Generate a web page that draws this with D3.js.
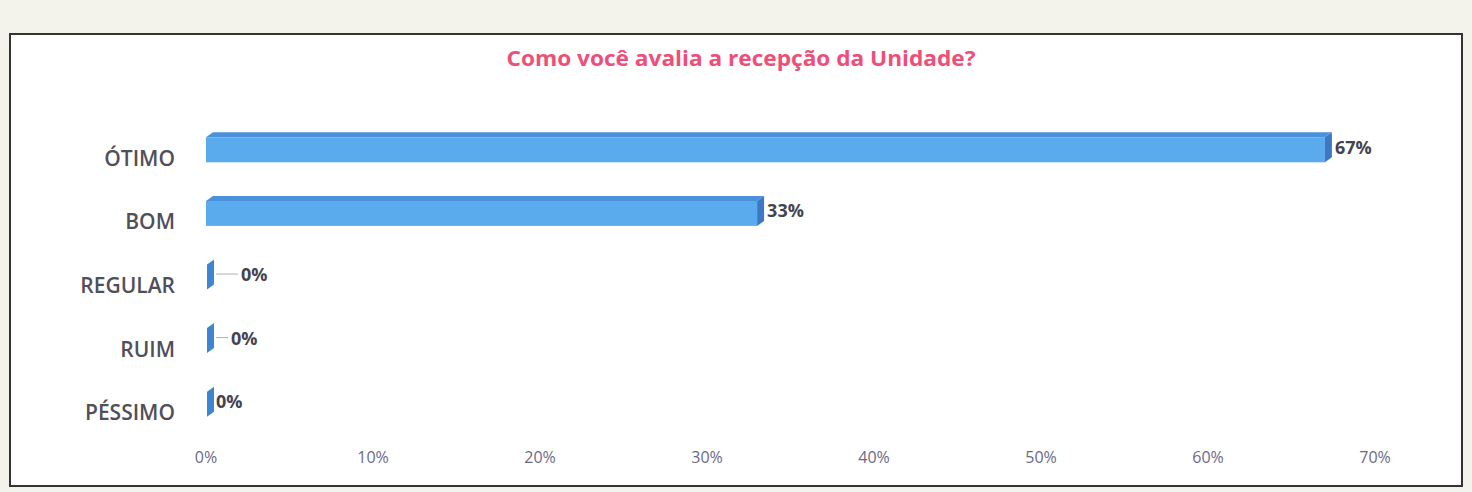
<!DOCTYPE html>
<html>
<head>
<meta charset="utf-8">
<script src="https://cdn.jsdelivr.net/npm/d3@7"></script>
<style>
  html, body { margin: 0; padding: 0; background: #f3f3ec; }
  svg { display: block; }
</style>
</head>
<body>
<div id="app"></div>
<script>
const title = "Como você avalia a recepção da Unidade?";
const categories = ["ÓTIMO", "BOM", "REGULAR", "RUIM", "PÉSSIMO"];
const values = [67, 33, 0, 0, 0];
const tickValues = [0, 10, 20, 30, 40, 50, 60, 70];

const width = 1472,
  height = 492,
  frame = { x: 10, y: 34, w: 1452, h: 452 },
  depth = { dx: 7, dy: 5 },
  barH = 25;

// label nudges (px to the right of bar end), copied from the picture's layout
const labelNudge = [3, 3, 28, 18, 3];

const x = d3.scaleLinear().domain([0, 70]).range([206, 1375]);
const y = d3.scaleBand().domain(categories).range([126, 444]);

const svg = d3
  .select("#app")
  .append("svg")
  .attr("width", width)
  .attr("height", height)
  .style("font-family", "'Open Sans', sans-serif");

svg
  .append("rect")
  .attr("x", frame.x)
  .attr("y", frame.y)
  .attr("width", frame.w)
  .attr("height", frame.h)
  .attr("fill", "#ffffff")
  .attr("stroke", "#333333")
  .attr("stroke-width", 2);

svg
  .append("text")
  .attr("x", 741)
  .attr("y", 66)
  .attr("text-anchor", "middle")
  .attr("fill", "#ee4f79")
  .attr("font-size", 21)
  .attr("font-weight", "bold")
  .attr("textLength", 469)
  .attr("lengthAdjust", "spacingAndGlyphs")
  .text(title);

// category axis labels
svg
  .append("g")
  .selectAll("text")
  .data(categories)
  .join("text")
  .attr("x", 175)
  .attr("y", (d) => y(d) + y.bandwidth() / 2 + 8)
  .attr("text-anchor", "end")
  .attr("fill", "#50505a")
  .attr("font-size", 21)
  .attr("font-weight", 600)
  .text((d) => d);

// value axis labels
svg
  .append("g")
  .selectAll("text")
  .data(tickValues)
  .join("text")
  .attr("x", (d) => x(d))
  .attr("y", 463)
  .attr("text-anchor", "middle")
  .attr("fill", "#6a6a88")
  .attr("font-size", 16)
  .text((d) => d + "%");

const rows = categories.map((c, i) => ({ cat: c, value: values[i], i }));
const barTop = (d) => y(d.cat) + y.bandwidth() / 2 - 8 - barH / 2;

const bars = svg.append("g").selectAll("g").data(rows).join("g");

// front face
bars
  .filter((d) => d.value > 0)
  .append("rect")
  .attr("x", x(0))
  .attr("y", barTop)
  .attr("width", (d) => x(d.value) - x(0))
  .attr("height", barH)
  .attr("fill", "#5aaaee");

// top face
bars
  .filter((d) => d.value > 0)
  .append("path")
  .attr("d", (d) => {
    const t = barTop(d),
      x0 = x(0),
      x1 = x(d.value);
    return `M${x0},${t}L${x0 + depth.dx},${t - depth.dy}L${x1 + depth.dx},${t - depth.dy}L${x1},${t}Z`;
  })
  .attr("fill", "#4a90da");

// side face (also the whole visible shape for zero values)
bars
  .append("path")
  .attr("d", (d) => {
    const t = barTop(d),
      x1 = x(d.value) + (d.value > 0 ? 0 : 1);
    return `M${x1},${t}L${x1 + depth.dx},${t - depth.dy}L${x1 + depth.dx},${t - depth.dy + barH}L${x1},${t + barH}Z`;
  })
  .attr("fill", (d) => (d.value > 0 ? "#3d78c4" : "#3f86d2"));

// leader lines for the moved zero labels
bars
  .filter((d) => labelNudge[d.i] > 10)
  .append("line")
  .attr("x1", (d) => x(d.value) + depth.dx + 3)
  .attr("x2", (d) => x(d.value) + depth.dx + labelNudge[d.i] - 3)
  .attr("y1", (d) => barTop(d) + barH / 2 - 3)
  .attr("y2", (d) => barTop(d) + barH / 2 - 3)
  .attr("stroke", "#b0b0b0")
  .attr("stroke-width", 1);

bars
  .append("text")
  .attr("x", (d) => x(d.value) + depth.dx + labelNudge[d.i])
  .attr("y", (d) => barTop(d) + barH / 2 + 4)
  .attr("fill", "#444450")
  .attr("font-size", 18)
  .attr("font-weight", "bold")
  .text((d) => d.value + "%");
</script>
</body>
</html>
